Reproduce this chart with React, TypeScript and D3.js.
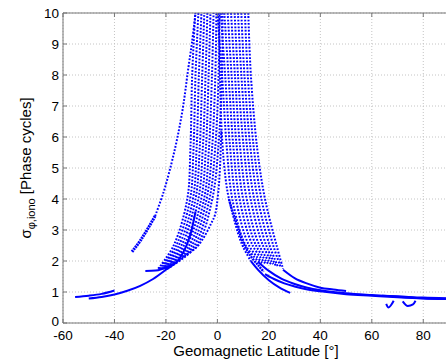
import * as d3 from "d3";
import React from "react";

const mainWidth = 446;
const mainHeight = 360;
const margin = { top: 13, right: -3, bottom: 37, left: 63 };
const width = mainWidth - margin.left - margin.right;
const height = mainHeight - margin.top - margin.bottom;

const xTicks = [-60, -40, -20, 0, 20, 40, 60, 80];
const yTicks = [0, 1, 2, 3, 4, 5, 6, 7, 8, 9, 10];

type Pt = [number, number];

// left fan: passes rising from about -21° towards the crest
const fanLeft: Pt[][] = [
  [[-23, 1.75], [-17, 2.5], [-11.7, 4], [-10.5, 5.6], [-9.8, 8], [-8.6, 10]],
  [[-22.6, 1.75], [-16, 2.5], [-10.6, 4], [-9.3, 5.6], [-8.5, 8], [-7.4, 10]],
  [[-22.2, 1.75], [-15, 2.5], [-9.5, 4], [-8.1, 5.6], [-7.2, 8], [-6.2, 10]],
  [[-21.8, 1.75], [-14, 2.5], [-8.5, 4], [-6.9, 5.6], [-5.9, 8], [-5.1, 10]],
  [[-21.4, 1.75], [-13, 2.5], [-7.4, 4], [-5.7, 5.6], [-4.6, 8], [-3.9, 10]],
  [[-21.1, 1.75], [-12, 2.5], [-6.3, 4], [-4.5, 5.6], [-3.4, 8], [-2.7, 10]],
  [[-20.7, 1.75], [-11, 2.5], [-5.2, 4], [-3.3, 5.6], [-2.1, 8], [-1.5, 10]],
  [[-20.3, 1.75], [-10, 2.5], [-4.2, 4], [-2.1, 5.6], [-0.8, 8], [-0.4, 10]],
  [[-19.9, 1.75], [-9, 2.5], [-3.1, 4], [-0.9, 5.6], [0.5, 8], [0.8, 10]],
  [[-19.5, 1.75], [-8, 2.5], [-2, 4], [0.3, 5.6], [1.8, 8], [2, 10]],
];

// right fan: passes falling from the crest towards about 20°
const fanRight: Pt[][] = [
  [[0, 10], [1.8, 8], [3.7, 5.6], [5.8, 4], [11, 2.5], [17, 1.9]],
  [[1.3, 10], [3.0, 8], [5.0, 5.6], [7.2, 4], [12.3, 2.5], [17.9, 1.9]],
  [[2.7, 10], [4.3, 8], [6.3, 5.6], [8.6, 4], [13.7, 2.5], [18.9, 1.9]],
  [[4, 10], [5.5, 8], [7.6, 5.6], [10.0, 4], [15, 2.5], [19.8, 1.9]],
  [[5.3, 10], [6.8, 8], [8.9, 5.6], [11.4, 4], [16.3, 2.5], [20.8, 1.9]],
  [[6.7, 10], [8.0, 8], [10.3, 5.6], [12.9, 4], [17.7, 2.5], [21.7, 1.9]],
  [[8, 10], [9.3, 8], [11.6, 5.6], [14.3, 4], [19, 2.5], [22.7, 1.85]],
  [[9.3, 10], [10.5, 8], [12.9, 5.6], [15.7, 4], [20.3, 2.5], [23.6, 1.8]],
  [[10.7, 10], [11.8, 8], [14.2, 5.6], [17.1, 4], [21.7, 2.5], [24.6, 1.8]],
  [[12, 10], [13, 8], [15.5, 5.6], [18.5, 4], [23, 2.5], [25.5, 1.75]],
];

const leftArcLow: Pt[] = [[-33.2, 2.3], [-30, 2.65], [-27, 3.05], [-24.2, 3.45]];

const leftArc: Pt[] = [
  [-24.2, 3.45], [-21, 4.2], [-18, 5.1], [-15.5, 6.0], [-13.3, 7.0],
  [-11.5, 8.1], [-9.8, 9.1], [-8.5, 10],
];

const innerLeftLow: Pt[] = [[-28, 1.68], [-24, 1.69], [-21, 1.76], [-16, 1.95]];

const innerLeft: Pt[] = [
  [-16, 1.95], [-12, 2.2], [-8, 2.45], [-5, 2.8], [-2.5, 3.2], [-0.9, 3.5],
  [0.3, 4.2], [1, 5], [1.5, 6.2],
];

const innerRight: Pt[] = [
  [0.5, 10], [1, 8], [1.5, 6.5], [2.5, 5.2], [4, 4.2], [6, 3.5], [8, 2.9],
  [10, 2.45], [13, 2.0],
];

const innerRightLow: Pt[] = [[13, 2.0], [16, 1.7], [20, 1.38], [24, 1.15], [28.3, 0.97]];

const innerRight2: Pt[] = [
  [4.5, 4.0], [5.5, 3.7], [7.5, 3.2], [10, 2.6], [13, 2.15], [16, 1.85], [18, 1.65],
];

const tailA: Pt[] = [[-55.3, 0.84], [-50, 0.88], [-45, 0.94], [-40, 1.05]];

const tailB: Pt[] = [
  [-50, 0.79], [-45, 0.84], [-40, 0.92], [-35, 1.04], [-30, 1.2], [-25, 1.42],
  [-20, 1.72], [-15, 2.05], [-12, 2.5], [-10, 3.0], [-8.5, 3.6],
];

const rightA: Pt[] = [
  [15.8, 1.97], [20, 1.68], [25, 1.42], [30, 1.26], [35, 1.14], [40, 1.06],
  [50, 0.96], [60, 0.9], [70, 0.85], [80, 0.8], [90, 0.78],
];

const rightB: Pt[] = [
  [18.5, 1.58], [22, 1.42], [26, 1.28], [30, 1.18], [35, 1.08], [40, 1.02],
  [50, 0.93], [60, 0.88], [70, 0.83], [80, 0.79], [90, 0.77],
];

const rightC: Pt[] = [[25.5, 1.72], [30, 1.45], [35, 1.27], [40, 1.14], [45, 1.08], [50, 1.03]];
const rightD: Pt[] = [[64, 0.88], [70, 0.86], [80, 0.82], [90, 0.8]];

const hook1: Pt[] = [[65.6, 0.62], [66.5, 0.5], [67.5, 0.58], [68.5, 0.72]];
const hook2: Pt[] = [[72, 0.7], [74, 0.55], [76, 0.6], [77, 0.72]];

const dotted = [...fanLeft, ...fanRight, leftArc, innerLeft, innerRight];
const dense = [innerRight2];
const solid = [innerLeftLow, innerRightLow, tailA, tailB, rightA, rightB, rightC, rightD, hook1, hook2];
const thick = [leftArcLow];

const font = "'Liberation Sans', Arial, sans-serif";

function App() {
  const xScale = d3.scaleLinear().domain([-60, 90]).range([0, width]);
  const yScale = d3.scaleLinear().domain([0, 10]).range([height, 0]);
  const line = d3
    .line<Pt>()
    .x((d) => xScale(d[0]))
    .y((d) => yScale(d[1]))
    .curve(d3.curveMonotoneX);
  const lineY = d3
    .line<Pt>()
    .x((d) => xScale(d[0]))
    .y((d) => yScale(d[1]))
    .curve(d3.curveCatmullRom);

  return (
    <div style={{ position: "fixed", left: 0, top: 0 }}>
      <svg width={mainWidth} height={mainHeight} style={{ display: "block", background: "#fff" }}>
        <defs>
          <clipPath id="plot">
            <rect x={0} y={-1} width={width} height={height + 1} />
          </clipPath>
        </defs>
        <g transform={`translate(${margin.left},${margin.top})`}>
          {/* grid */}
          {xTicks.map((t) => (
            <line key={"gx" + t} x1={xScale(t)} x2={xScale(t)} y1={0} y2={height}
              stroke="#c4c4c4" strokeDasharray="1 2" />
          ))}
          {yTicks.map((t) => (
            <line key={"gy" + t} x1={0} x2={width} y1={yScale(t)} y2={yScale(t)}
              stroke="#c4c4c4" strokeDasharray="1 2" />
          ))}

          {/* data */}
          <g clipPath="url(#plot)" fill="none" stroke="#0000ff">
            {dotted.map((d, i) => (
              <path key={"d" + i} d={lineY(d) ?? ""} strokeWidth={2} strokeDasharray="1.8 1.6" />
            ))}
            {dense.map((d, i) => (
              <path key={"n" + i} d={lineY(d) ?? ""} strokeWidth={2.4} strokeDasharray="2 0.8" />
            ))}
            {solid.map((d, i) => (
              <path key={"s" + i} d={line(d) ?? ""} strokeWidth={2} />
            ))}
            {thick.map((d, i) => (
              <path key={"t" + i} d={line(d) ?? ""} strokeWidth={3} strokeDasharray="2 0.7" />
            ))}
          </g>

          {/* axes box */}
          <line x1={0} x2={width} y1={0} y2={0} stroke="#777" />
          <line x1={0} x2={width} y1={height} y2={height} stroke="#777" />
          <line x1={0} x2={0} y1={0} y2={height} stroke="#777" />
          {xTicks.map((t) => (
            <g key={"tx" + t}>
              <line x1={xScale(t)} x2={xScale(t)} y1={height} y2={height - 4} stroke="#777" />
              <line x1={xScale(t)} x2={xScale(t)} y1={0} y2={4} stroke="#777" />
              <text x={xScale(t)} y={height + 16.5} textAnchor="middle" fontSize={13.5}
                fontFamily={font} fill="#000">{t}</text>
            </g>
          ))}
          {yTicks.map((t) => (
            <g key={"ty" + t}>
              <line x1={0} x2={4} y1={yScale(t)} y2={yScale(t)} stroke="#777" />
              <text x={-4} y={yScale(t) + (t === 0 ? 2.5 : 5)} textAnchor="end" fontSize={13.5}
                fontFamily={font} fill="#000">{t}</text>
            </g>
          ))}

          <text x={xScale(15)} y={height + 33} textAnchor="middle" fontSize={15}
            fontFamily={font} fill="#000">Geomagnetic Latitude [°]</text>
          <text transform={`translate(${31 - margin.left},${yScale(5)}) rotate(-90)`}
            textAnchor="middle" fontSize={15} fontFamily={font} fill="#000">
            σ<tspan fontSize={11} dy={4}>φ,iono</tspan>
            <tspan dy={-4}> [Phase cycles]</tspan>
          </text>
        </g>
      </svg>
    </div>
  );
}

export default App;
